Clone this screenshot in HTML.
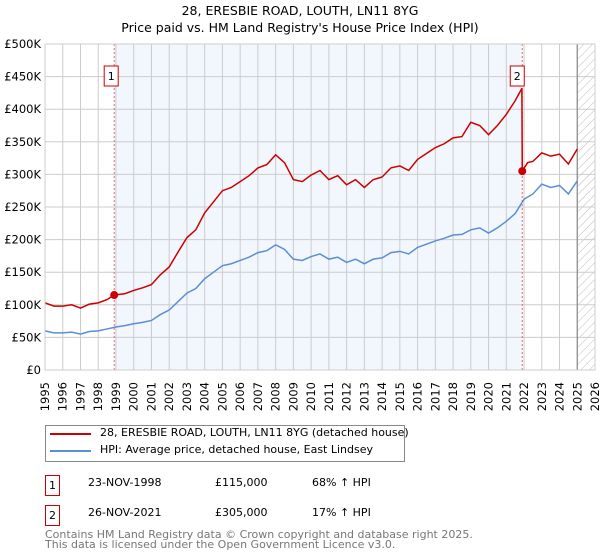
<!DOCTYPE html>
<html><head><meta charset="utf-8">
<style>
body{margin:0;width:600px;height:560px;background:#fff;font-family:"DejaVu Sans","Liberation Sans",sans-serif;overflow:hidden;position:relative}
.t{position:absolute;font-size:11.5px;color:#000;white-space:nowrap}
.box{position:absolute;width:13px;height:19px;border:1px solid #c00;font-size:11px;text-align:center;line-height:19px}
</style></head><body>
<div class="t" style="left:0;width:600px;text-align:center;top:3px;font-size:12.5px">28, ERESBIE ROAD, LOUTH, LN11 8YG</div>
<div class="t" style="left:0;width:600px;text-align:center;top:20px;font-size:12.5px">Price paid vs. HM Land Registry's House Price Index (HPI)</div>
<svg id="c" width="600" height="420" style="position:absolute;left:0;top:0"></svg>
<div style="position:absolute;left:45px;top:425px;width:358px;height:35px;border:1px solid #888"></div>
<div style="position:absolute;left:50px;top:433px;width:41px;height:2px;background:#c00"></div>
<div class="t" style="left:100px;top:426px;font-size:11px">28, ERESBIE ROAD, LOUTH, LN11 8YG (detached house)</div>
<div style="position:absolute;left:50px;top:450px;width:41px;height:2px;background:#5b8fd4"></div>
<div class="t" style="left:100px;top:443px;font-size:11px">HPI: Average price, detached house, East Lindsey</div>
<div class="box" style="left:45px;top:475px">1</div>
<div class="t" style="left:88px;top:476px;font-size:11px">23-NOV-1998</div>
<div class="t" style="left:215px;top:476px;font-size:11px">£115,000</div>
<div class="t" style="left:312px;top:476px;font-size:11px">68% ↑ HPI</div>
<div class="box" style="left:45px;top:505px">2</div>
<div class="t" style="left:88px;top:506px;font-size:11px">26-NOV-2021</div>
<div class="t" style="left:215px;top:506px;font-size:11px">£305,000</div>
<div class="t" style="left:312px;top:506px;font-size:11px">17% ↑ HPI</div>
<div class="t" style="left:45px;top:530px;font-size:11px;color:#777;line-height:10px">Contains HM Land Registry data © Crown copyright and database right 2025.<br>This data is licensed under the Open Government Licence v3.0.</div>
<script>
const years=[1995,1995.5,1996,1996.5,1997,1997.5,1998,1998.5,1999,1999.5,2000,2000.5,2001,2001.5,2002,2002.5,2003,2003.5,2004,2004.5,2005,2005.5,2006,2006.5,2007,2007.5,2008,2008.5,2009,2009.5,2010,2010.5,2011,2011.5,2012,2012.5,2013,2013.5,2014,2014.5,2015,2015.5,2016,2016.5,2017,2017.5,2018,2018.5,2019,2019.5,2020,2020.5,2021,2021.5,2022,2022.5,2023,2023.5,2024,2024.5,2025];
const hpi=[60,57,57,58,55,59,60,63,66,68,71,73,76,85,92,105,118,125,140,150,160,163,168,173,180,183,192,185,170,168,174,178,170,173,165,170,163,170,172,180,182,178,188,193,198,202,207,208,215,218,210,218,228,240,262,270,285,280,283,270,290];
const redYears=[1995,1995.5,1996,1996.5,1997,1997.5,1998,1998.5,1998.9,1999.5,2000,2000.5,2001,2001.5,2002,2002.5,2003,2003.5,2004,2004.5,2005,2005.5,2006,2006.5,2007,2007.5,2008,2008.5,2009,2009.5,2010,2010.5,2011,2011.5,2012,2012.5,2013,2013.5,2014,2014.5,2015,2015.5,2016,2016.5,2017,2017.5,2018,2018.5,2019,2019.5,2020,2020.5,2021,2021.5,2021.88,2021.9,2022.2,2022.5,2023,2023.5,2024,2024.5,2025];
const red=[103,98,98,100,95,101,103,108,115,117,122,126,131,146,158,181,203,215,241,258,275,280,289,298,310,315,330,318,292,289,299,306,292,298,284,292,280,292,296,310,313,306,323,332,341,347,356,358,380,375,361,375,392,413,432,305,318,320,333,328,331,316,339];
const saleYears=[1998.9,2021.9];
const salePrices=[115,305];
const yTicks=[0,50,100,150,200,250,300,350,400,450,500];
const xTicks=[1995,1996,1997,1998,1999,2000,2001,2002,2003,2004,2005,2006,2007,2008,2009,2010,2011,2012,2013,2014,2015,2016,2017,2018,2019,2020,2021,2022,2023,2024,2025,2026];
const L=45,R=595,T=44,B=370;
const x=v=>L+(v-1995)/(2026-1995)*(R-L);
const y=v=>B-v/500*(B-T);
const s=document.getElementById('c');const N='http://www.w3.org/2000/svg';
function mk(t,a,p){const e=document.createElementNS(N,t);for(const k in a)e.setAttribute(k,a[k]);(p||s).appendChild(e);return e;}
let e;
e=mk('defs',{});e.innerHTML='<pattern id="h" width="6" height="6" patternUnits="userSpaceOnUse" patternTransform="rotate(45)"><line x1="0" y1="0" x2="0" y2="6" stroke="#bbb" stroke-width="1"/></pattern>';
e=mk('rect',{x:x(saleYears[0]),y:T,width:x(saleYears[1])-x(saleYears[0]),height:B-T,fill:'#f2f6fd'});

e=mk('rect',{x:x(2025.05),y:T,width:R-x(2025.05),height:B-T,fill:'url(#h)'});

yTicks.forEach(v=>{
 e=mk('line',{x1:L,x2:R,y1:y(v),y2:y(v),stroke:'#ccc'});
 
 e=mk('text',{x:L-4,y:y(v)+4,'text-anchor':'end','font-size':11.5,'font-family':'DejaVu Sans,sans-serif'});
 e.textContent=v==0?'£0':'£'+v+'K';
 
});
xTicks.forEach(v=>{
 e=mk('line',{x1:x(v),x2:x(v),y1:T,y2:B,stroke:'#ccc'});
 
 const tx=x(v)+4,ty=382;
 e=mk('text',{x:tx,y:ty,'text-anchor':'end','font-size':11.5,'font-family':'DejaVu Sans,sans-serif',transform:'rotate(-90 '+tx+' '+ty+')'});
 e.textContent=v;
 
});
e=mk('line',{x1:x(2025.0),x2:x(2025.0),y1:T,y2:B,stroke:'#888','stroke-width':1.2});

saleYears.forEach((v,i)=>{
 e=mk('line',{x1:x(v),x2:x(v),y1:T,y2:B,stroke:'#e66','stroke-dasharray':'2,2'});
 
});
e=mk('polyline',{points:years.map((v,i)=>x(v)+','+y(hpi[i])).join(' '),fill:'none',stroke:'#5b8fd4','stroke-width':1.5});

e=mk('polyline',{points:redYears.map((v,i)=>x(v)+','+y(red[i])).join(' '),fill:'none',stroke:'#c00','stroke-width':1.5});

saleYears.forEach((v,i)=>{
 e=mk('circle',{cx:x(v),cy:y(salePrices[i]),r:4,fill:'#c00'});
 
 const bx=x(v)-(i==0?10:12);
 e=mk('rect',{x:bx,y:66,width:14,height:20,fill:'#fff',stroke:'#c00'});
 
 e=mk('text',{x:bx+7,y:80,'text-anchor':'middle','font-size':11,'font-family':'DejaVu Sans,sans-serif'});
 e.textContent=String(i+1);
 
});
e=mk('rect',{x:L,y:T,width:R-L,height:B-T,fill:'none',stroke:'#ccc'});

</script>
</body></html>
